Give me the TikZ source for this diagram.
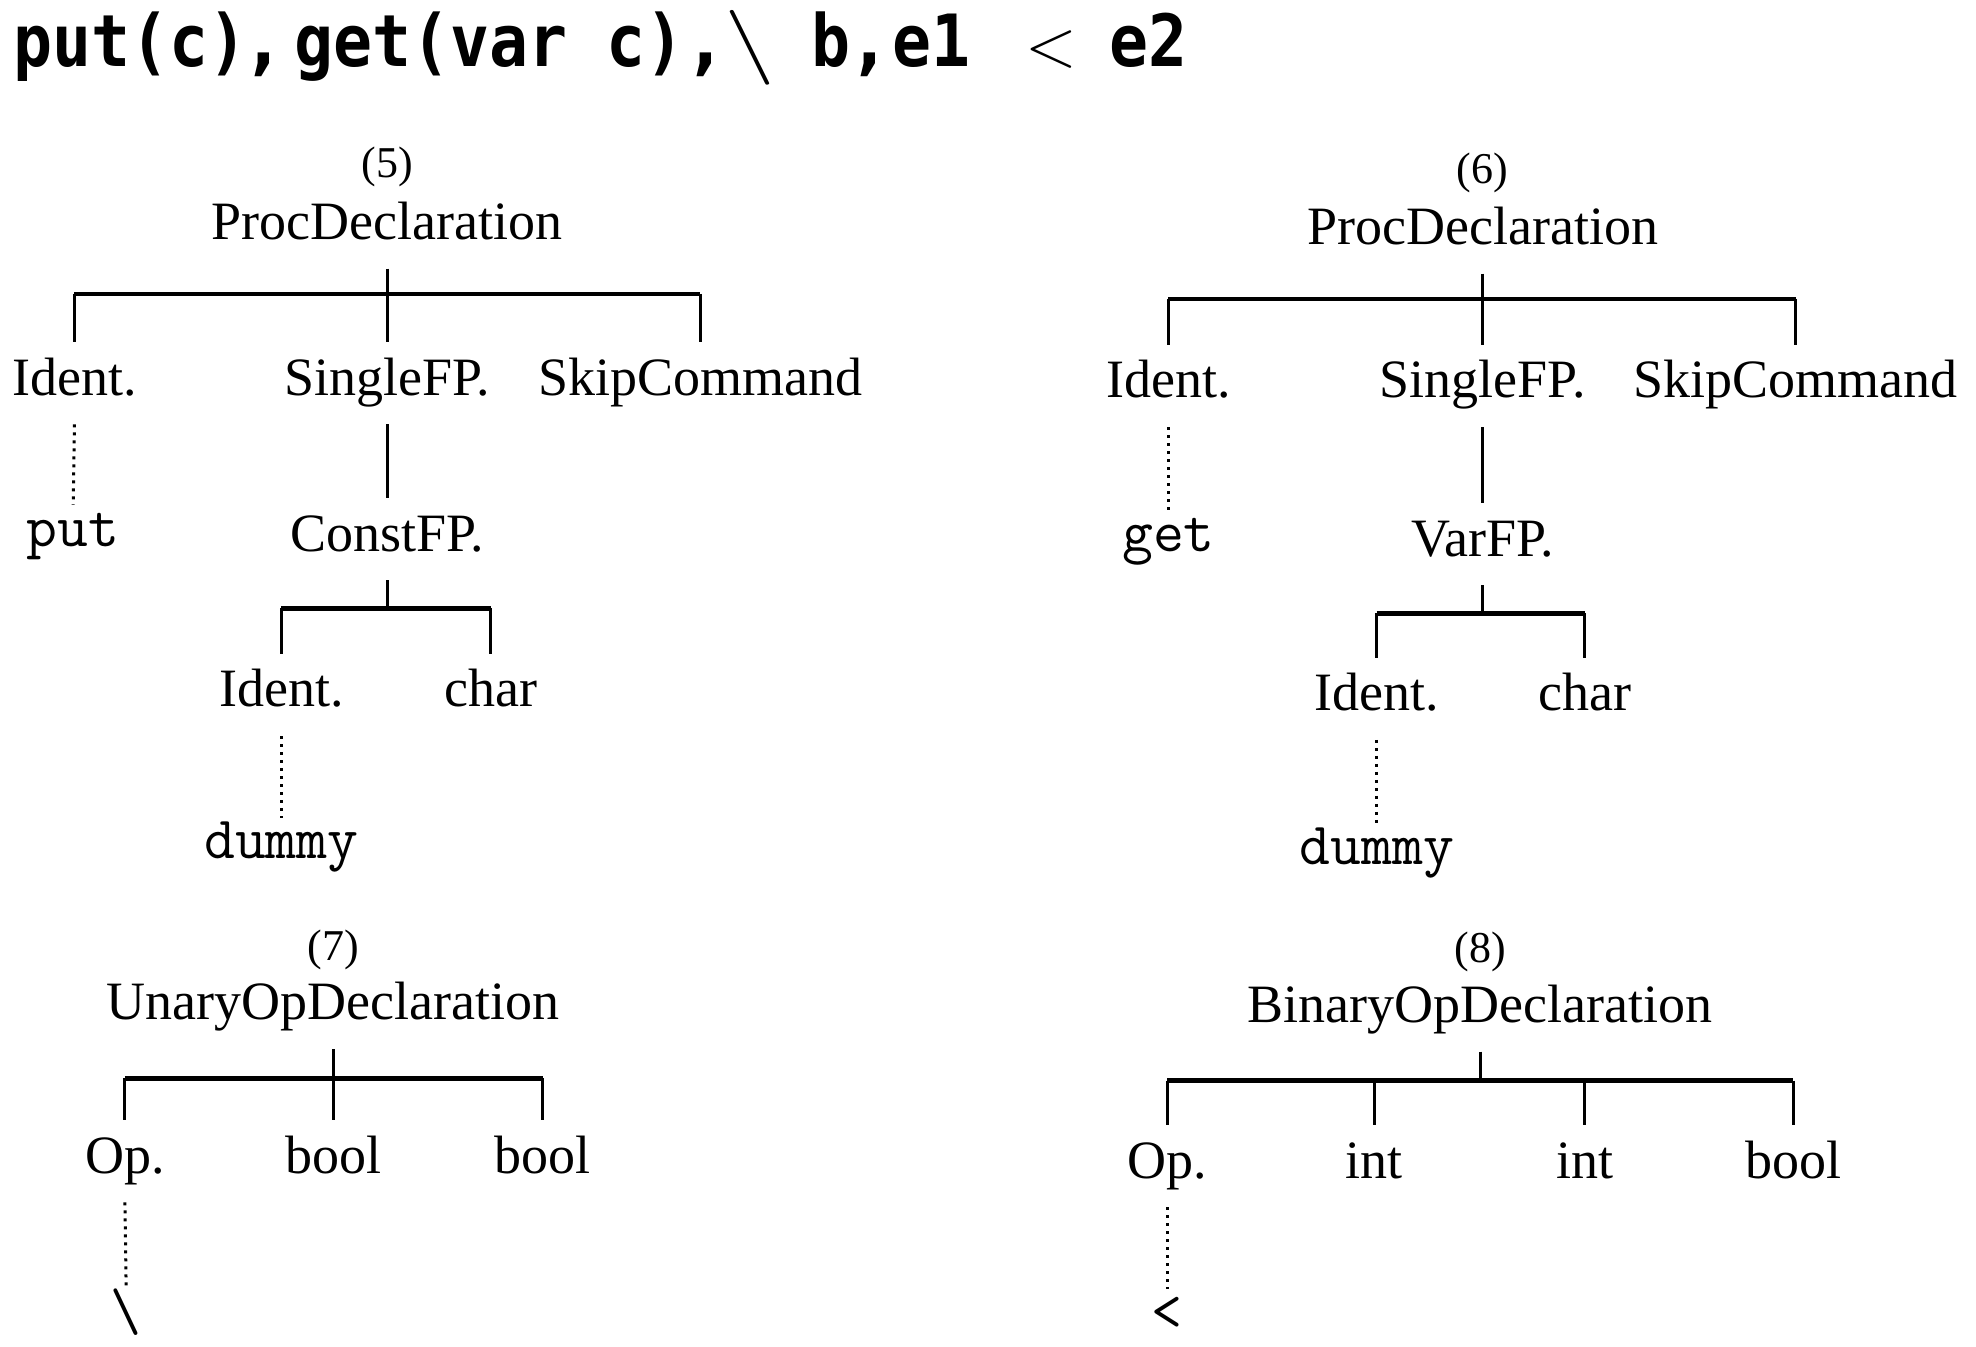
\documentclass[tikz,border=0pt]{standalone}
\usepackage{fontspec}
\newfontfamily\treefont{Liberation Serif}
\newfontfamily\titlemono[FakeStretch=0.9]{DejaVu Sans Mono}
\newfontfamily\titlesans[FakeStretch=0.9]{DejaVu Sans}
\begin{document}
\begin{tikzpicture}[x=0.6308pt, y=-0.63333pt,
  lab/.style={font=\treefont\fontsize{27pt}{30pt}\selectfont, inner sep=0pt, text height=18pt, text depth=6pt, outer ysep=8.6pt, anchor=base},
  num/.style={font=\treefont\fontsize{22pt}{24pt}\selectfont, inner sep=0pt, anchor=base},
  leaf/.style={font=\ttfamily\fontsize{30pt}{32pt}\selectfont, inner sep=0pt, text height=12pt, text depth=6pt, outer ysep=8.6pt, anchor=base},
  tmono/.style={font=\titlemono\bfseries\fontsize{36pt}{38pt}\selectfont, inner sep=0pt, anchor=base west},
  tsans/.style={font=\titlesans\bfseries\fontsize{36pt}{38pt}\selectfont, inner sep=0pt, anchor=base west},
  tmath/.style={font=\rmfamily\fontsize{34pt}{36pt}\selectfont, inner sep=0pt, anchor=base},
  barline/.style={line width=2.4pt},
  stem/.style={line width=1.5pt},
  dots/.style={line width=1.5pt, dash pattern=on 1.5pt off 2.5pt}]
\useasboundingbox (0,0) rectangle (1566,1062.6);

% ---- title ----
\node[tmono] (t1) at (10,52.5) {put(c)};
\node[tsans] (t2) at (199,52.5) {,};
\node[tmono] (t3) at (233,52.5) {get(var c)};
\node[tsans] (t4) at (549,52.5) {,};
\node[tmath] (t5) at (594,52.5) {\scalebox{1.5}[1.1]{\textbackslash}};
\node[tmono] (t6) at (643,52.5) {b};
\node[tsans] (t7) at (679,52.5) {,};
\node[tmono] (t8) at (707,52.5) {e1};
\node[tmath] (t9) at (833,52.5) {<};
\node[tmono] (t10) at (879,52.5) {e2};

% ---- tree (5) ----
\node[num] (n5) at (307,140) {(5)};
\node[lab] (r5) at (307,189) {ProcDeclaration};
\coordinate (j5) at (307,232);
\node[lab] (a5) at (59,312) {Ident.};
\node[lab] (b5) at (307,312) {SingleFP.};
\node[lab] (c5) at (555,312) {SkipCommand};
\draw[stem] (r5.south) -- (j5) -- (b5.north);
\draw[barline] (a5 |- j5) -- (c5 |- j5);
\draw[stem] (a5 |- j5) -- (a5.north);
\draw[stem] (c5 |- j5) -- (c5.north);
\node[leaf] (p5) at (58,431) {put};
\draw[dots] (a5.south) -- (p5.north);
\node[lab] (d5) at (307,435) {ConstFP.};
\draw[stem] (b5.south) -- (d5.north);
\coordinate (k5) at (307,480);
\node[lab] (e5) at (223,558) {Ident.};
\node[lab] (f5) at (389,558) {char};
\draw[stem] (d5.south) -- (k5);
\draw[barline] (e5 |- k5) -- (f5 |- k5);
\draw[stem] (e5 |- k5) -- (e5.north);
\draw[stem] (f5 |- k5) -- (f5.north);
\node[leaf] (g5) at (223,678) {dummy};
\draw[dots] (e5.south) -- (g5.north);

% ---- tree (6) ----
\node[num] (n6) at (1175,145) {(6)};
\node[lab] (r6) at (1175,193) {ProcDeclaration};
\coordinate (j6) at (1175,236);
\node[lab] (a6) at (926,314) {Ident.};
\node[lab] (b6) at (1175,314) {SingleFP.};
\node[lab] (c6) at (1423,314) {SkipCommand};
\draw[stem] (r6.south) -- (j6) -- (b6.north);
\draw[barline] (a6 |- j6) -- (c6 |- j6);
\draw[stem] (a6 |- j6) -- (a6.north);
\draw[stem] (c6 |- j6) -- (c6.north);
\node[leaf] (p6) at (926,435) {get};
\draw[dots] (a6.south) -- (p6.north);
\node[lab] (d6) at (1175,439) {VarFP.};
\draw[stem] (b6.south) -- (d6.north);
\coordinate (k6) at (1175,484);
\node[lab] (e6) at (1091,561) {Ident.};
\node[lab] (f6) at (1256,561) {char};
\draw[stem] (d6.south) -- (k6);
\draw[barline] (e6 |- k6) -- (f6 |- k6);
\draw[stem] (e6 |- k6) -- (e6.north);
\draw[stem] (f6 |- k6) -- (f6.north);
\node[leaf] (g6) at (1091,682) {dummy};
\draw[dots] (e6.south) -- (g6.north);

% ---- tree (7) ----
\node[num] (n7) at (264,758) {(7)};
\node[lab] (r7) at (264,805) {UnaryOpDeclaration};
\coordinate (j7) at (264,851);
\node[lab] (a7) at (99,926) {Op.};
\node[lab] (b7) at (264,926) {bool};
\node[lab] (c7) at (430,926) {bool};
\draw[stem] (r7.south) -- (j7) -- (b7.north);
\draw[barline] (a7 |- j7) -- (c7 |- j7);
\draw[stem] (a7 |- j7) -- (a7.north);
\draw[stem] (c7 |- j7) -- (c7.north);
\node[leaf] (p7) at (100,1050) {\symbol{92}};
\draw[dots] (a7.south) -- (p7.north);

% ---- tree (8) ----
\node[num] (n8) at (1173,760) {(8)};
\node[lab] (r8) at (1173,807) {BinaryOpDeclaration};
\coordinate (j8) at (1173,853);
\node[lab] (a8) at (925,930) {Op.};
\node[lab] (b8) at (1089,930) {int};
\node[lab] (c8) at (1256,930) {int};
\node[lab] (d8) at (1421,930) {bool};
\draw[stem] (r8.south) -- (j8);
\draw[barline] (a8 |- j8) -- (d8 |- j8);
\draw[stem] (a8 |- j8) -- (a8.north);
\draw[stem] (b8 |- j8) -- (b8.north);
\draw[stem] (c8 |- j8) -- (c8.north);
\draw[stem] (d8 |- j8) -- (d8.north);
\node[leaf] (p8) at (925,1050) {<};
\draw[dots] (a8.south) -- (p8.north);
\end{tikzpicture}
\end{document}
